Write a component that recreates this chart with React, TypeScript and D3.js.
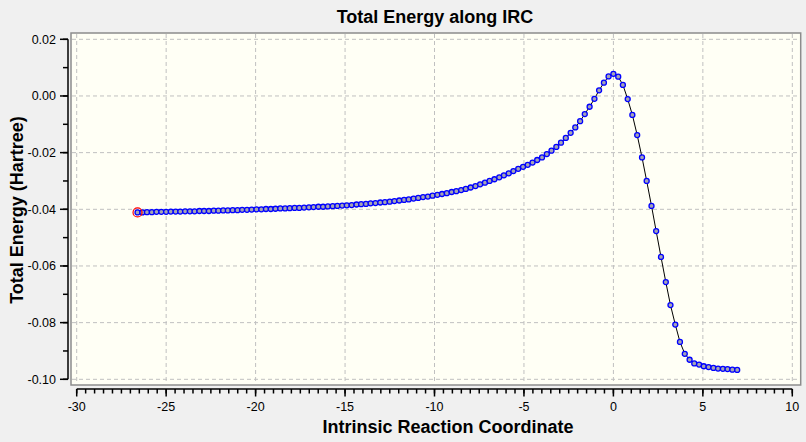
import React from "react";
import * as d3 from "d3";

// IRC path, reactant side -> TS (x = 0) -> product side
const reactionCoord = [
  -26.6, -26.33, -26.07, -25.8, -25.54, -25.27, -25.0, -24.74, -24.47, -24.21,
  -23.94, -23.67, -23.41, -23.14, -22.88, -22.61, -22.34, -22.08, -21.81, -21.55,
  -21.28, -21.01, -20.75, -20.48, -20.22, -19.95, -19.68, -19.42, -19.15, -18.89,
  -18.62, -18.35, -18.09, -17.82, -17.56, -17.29, -17.02, -16.76, -16.49, -16.23,
  -15.96, -15.69, -15.43, -15.16, -14.9, -14.63, -14.36, -14.1, -13.83, -13.57,
  -13.3, -13.03, -12.77, -12.5, -12.24, -11.97, -11.7, -11.44, -11.17, -10.91,
  -10.64, -10.37, -10.11, -9.84, -9.58, -9.31, -9.04, -8.78, -8.51, -8.25,
  -7.98, -7.71, -7.45, -7.18, -6.92, -6.65, -6.38, -6.12, -5.85, -5.59,
  -5.32, -5.05, -4.79, -4.52, -4.26, -3.99, -3.72, -3.46, -3.19, -2.93,
  -2.66, -2.39, -2.13, -1.86, -1.6, -1.33, -1.06, -0.8, -0.53, -0.27,
  0.0,
  0.27, 0.53, 0.8, 1.06, 1.33, 1.6, 1.86, 2.13, 2.39, 2.66,
  2.93, 3.19, 3.46, 3.72, 3.99, 4.26, 4.52, 4.79, 5.05, 5.32,
  5.59, 5.85, 6.12, 6.38, 6.65, 6.92,
];

const totalEnergy = [
  -0.0411, -0.0411, -0.041, -0.041, -0.0409, -0.0409, -0.0409, -0.0408, -0.0408, -0.0408,
  -0.0407, -0.0407, -0.0407, -0.0406, -0.0406, -0.0406, -0.0405, -0.0405, -0.0404, -0.0404,
  -0.0403, -0.0403, -0.0402, -0.0402, -0.0401, -0.04, -0.04, -0.0399, -0.0399, -0.0398,
  -0.0397, -0.0397, -0.0396, -0.0395, -0.0395, -0.0394, -0.0393, -0.0392, -0.0391, -0.0391,
  -0.039, -0.0389, -0.0388, -0.0387, -0.0386, -0.0385, -0.0383, -0.0382, -0.0381, -0.0379,
  -0.0378, -0.0376, -0.0375, -0.0373, -0.0371, -0.0369, -0.0367, -0.0365, -0.0362, -0.036,
  -0.0357, -0.0355, -0.0352, -0.0349, -0.0346, -0.0343, -0.0339, -0.0336, -0.0332, -0.0328,
  -0.0323, -0.0318, -0.0312, -0.0306, -0.03, -0.0294, -0.0287, -0.028, -0.0273, -0.0265,
  -0.0257, -0.025, -0.0243, -0.0235, -0.0226, -0.0217, -0.0205, -0.0193, -0.018, -0.0165,
  -0.0148, -0.013, -0.0111, -0.0089, -0.0064, -0.0038, -0.001, 0.002, 0.0047, 0.0069,
  0.0078,
  0.0068, 0.0039, -0.0011, -0.0067, -0.0138, -0.0217, -0.03, -0.0388, -0.0477, -0.0568,
  -0.0657, -0.0738, -0.0807, -0.0868, -0.091, -0.0931, -0.0944, -0.0948, -0.0954, -0.0957,
  -0.096, -0.0962, -0.0963, -0.0964, -0.0966, -0.0967,
];

const xTicks = [-30, -25, -20, -15, -10, -5, 0, 5, 10];
const yTicks = [0.02, 0.0, -0.02, -0.04, -0.06, -0.08, -0.1];

const W = 806;
const H = 442;
const font = "'Liberation Sans', Arial, sans-serif";

export default function App() {
  const x = d3.scaleLinear().domain([-30, 10]).range([76.7, 792.3]);
  const y = d3.scaleLinear().domain([-0.1, 0.02]).range([379.3, 39.3]);

  const pts = reactionCoord.map((v, i) => [v, totalEnergy[i]] as [number, number]);
  const line = d3
    .line<[number, number]>()
    .x((d) => x(d[0]))
    .y((d) => y(d[1]));

  const xMinor = x.ticks(80);
  const yMinor = y.ticks(12);
  const frame = { x: 71, y: 33, w: 729.7, h: 352 };
  const xAxisY = 389;
  const yAxisX = 68;

  return (
    <svg
      width={W}
      height={H}
      style={{ position: "absolute", left: 0, top: 0 }}
      fontFamily={font}
    >
      <rect width={W} height={H} fill="#f0f0f0" />

      {/* plot area */}
      <rect
        x={frame.x}
        y={frame.y}
        width={frame.w}
        height={frame.h}
        fill="#fffff5"
        stroke="#8c8c8c"
        strokeWidth={1.5}
      />

      {/* grid */}
      {xTicks.map((t) => (
        <line
          key={"gx" + t}
          x1={x(t)}
          x2={x(t)}
          y1={frame.y + 1}
          y2={frame.y + frame.h - 1}
          stroke="#c0c0c0"
          strokeDasharray="4,3"
        />
      ))}
      {yTicks.map((t) => (
        <line
          key={"gy" + t}
          x1={frame.x + 1}
          x2={frame.x + frame.w - 1}
          y1={y(t)}
          y2={y(t)}
          stroke="#c0c0c0"
          strokeDasharray="4,3"
        />
      ))}

      {/* series */}
      <path d={line(pts) || ""} fill="none" stroke="#000" strokeWidth={1} />
      {pts.map((d, i) => (
        <circle
          key={i}
          cx={x(d[0])}
          cy={y(d[1])}
          r={2.5}
          fill="#a4a4b4"
          stroke="#0000ff"
          strokeWidth={1.3}
        />
      ))}
      <circle
        cx={x(pts[0][0])}
        cy={y(pts[0][1])}
        r={4.5}
        fill="none"
        stroke="#ff0000"
        strokeWidth={1.2}
      />

      {/* y axis */}
      <line x1={yAxisX} x2={yAxisX} y1={y(0.02)} y2={y(-0.1)} stroke="#000" strokeWidth={1.5} />
      {yMinor.map((t) => (
        <line key={"ym" + t} x1={yAxisX - 5} x2={yAxisX} y1={y(t)} y2={y(t)} stroke="#000" strokeWidth={1.5} />
      ))}
      {yTicks.map((t) => (
        <g key={"yt" + t}>
          <line x1={yAxisX - 8} x2={yAxisX} y1={y(t)} y2={y(t)} stroke="#000" strokeWidth={1.5} />
          <text x={56} y={y(t)} dy="0.36em" textAnchor="end" fontSize={12.5} fill="#000">
            {t.toFixed(2)}
          </text>
        </g>
      ))}

      {/* x axis */}
      <line x1={x(-30)} x2={x(10)} y1={xAxisY} y2={xAxisY} stroke="#000" strokeWidth={1.5} />
      {xMinor.map((t) => (
        <line key={"xm" + t} x1={x(t)} x2={x(t)} y1={xAxisY} y2={xAxisY + 4.5} stroke="#000" strokeWidth={1.5} />
      ))}
      {xTicks.map((t) => (
        <g key={"xt" + t}>
          <line x1={x(t)} x2={x(t)} y1={xAxisY} y2={xAxisY + 7.5} stroke="#000" strokeWidth={1.5} />
          <text x={x(t)} y={411} textAnchor="middle" fontSize={12.5} fill="#000">
            {String(t)}
          </text>
        </g>
      ))}

      {/* titles */}
      <text x={435} y={23} textAnchor="middle" fontSize={18} fontWeight="bold" fill="#000">
        Total Energy along IRC
      </text>
      <text x={448} y={433} textAnchor="middle" fontSize={18} fontWeight="bold" fill="#000">
        Intrinsic Reaction Coordinate
      </text>
      <text
        transform="translate(23,210) rotate(-90)"
        textAnchor="middle"
        fontSize={18}
        fontWeight="bold"
        fill="#000"
      >
        Total Energy (Hartree)
      </text>
    </svg>
  );
}
